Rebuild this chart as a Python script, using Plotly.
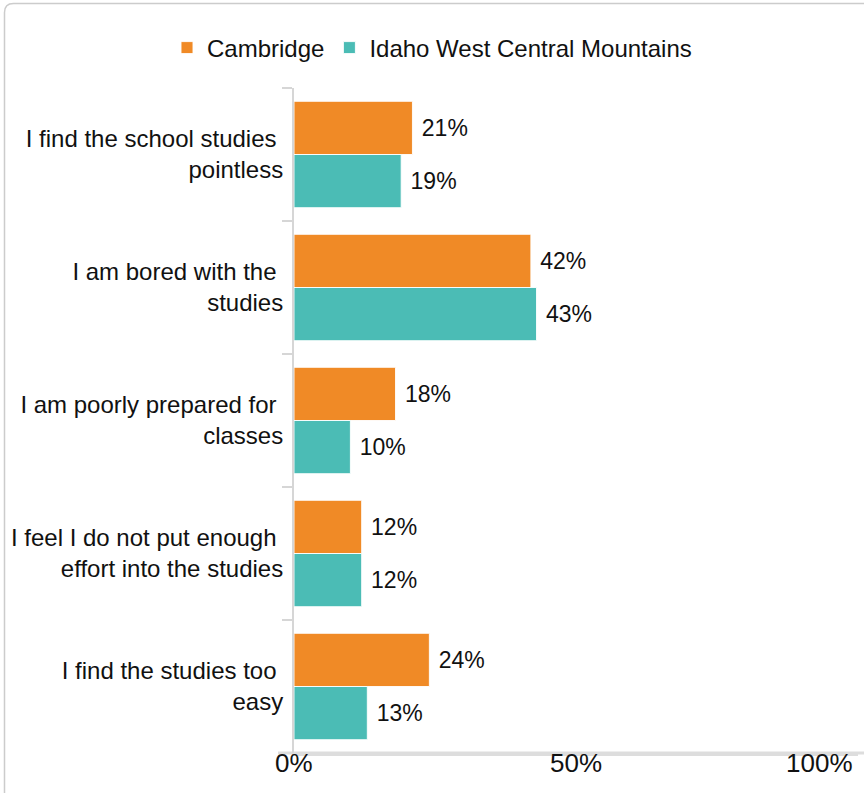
import plotly.graph_objects as go

categories = [
    "I find the school studies <br>pointless",
    "I am bored with the <br>studies",
    "I am poorly prepared for <br>classes",
    "I feel I do not put enough <br>effort into the studies",
    "I find the studies too <br>easy",
]
cambridge = [21, 42, 18, 12, 24]
idaho = [19, 43, 10, 12, 13]
series_names = ["Cambridge", "Idaho West Central Mountains"]
x_tick_vals = [0, 50, 100]
x_tick_text = ["0%", "50%", "100%"]

ORANGE = "#F08A26"
TEAL = "#4BBCB5"
FONT = "Liberation Sans, Arial, sans-serif"

W, H = 864, 793
L, R, T, B = 294, 6, 88, 40
pw = W - L - R
ph = H - T - B

fig = go.Figure()
for name, vals, col in [(series_names[0], cambridge, ORANGE), (series_names[1], idaho, TEAL)]:
    fig.add_trace(go.Bar(
        name=name, y=categories, x=vals, orientation="h",
        marker=dict(color=col, line=dict(color="rgba(255,255,255,0.9)", width=1)),
        text=[f" {v}%" for v in vals], textposition="outside",
        textfont=dict(family=FONT, size=23, color="#111111"),
        cliponaxis=False, hoverinfo="skip",
    ))

def px(x):
    return (x - L) / pw

def py(y):
    return (H - B - y) / ph

x0, y0 = px(4.5), py(3.5)
rx, ry = 9 / pw, 9 / ph
xr, yb = px(875), py(805)
path = (f"M {x0},{yb} L {x0},{y0 - ry} Q {x0},{y0} {x0 + rx},{y0} L {xr},{y0}")

# x tick labels drawn at their data positions on the x axis
tick_annotations = []
for i, (v, t) in enumerate(zip(x_tick_vals, x_tick_text)):
    last = i == len(x_tick_vals) - 1
    tick_annotations.append(dict(
        text=t, x=v, xref="x", y=0, yref="paper",
        xanchor="right" if last else "center", xshift=-3 if last else 0,
        yanchor="top", yshift=7, showarrow=False,
        font=dict(size=26, family=FONT, color="#111111")))

fig.update_layout(
    width=W, height=H,
    margin=dict(l=L, r=R, t=T, b=B, autoexpand=False),
    paper_bgcolor="white", plot_bgcolor="white",
    barmode="group", bargap=0.2, bargroupgap=0,
    font=dict(family=FONT, color="#111111"),
    showlegend=True,
    legend=dict(orientation="h", x=0.5, xref="container", xanchor="center",
                y=py(48), yanchor="middle", font=dict(size=24, family=FONT, color="#111111"),
                itemwidth=30, tracegroupgap=0, itemclick=False),
    xaxis=dict(range=[0, 100], tickvals=x_tick_vals, showticklabels=False,
               showgrid=False, zeroline=False, showline=True, linecolor="#DDDDDD", linewidth=3,
               ticks="", ticklen=0, automargin=False),
    yaxis=dict(autorange="reversed", showgrid=False, showline=True, linecolor="#D6D6D6", linewidth=2,
               ticks="outside", tickson="boundaries", ticklen=10, tickcolor="#D6D6D6", tickwidth=2,
               ticklabelstandoff=4,
               tickfont=dict(size=24, family=FONT, color="#111111"), automargin=False),
    shapes=[
        dict(type="path", path=path, xref="paper", yref="paper",
             line=dict(color="#CCCCCC", width=1.5), layer="above"),
        dict(type="line", xref="paper", yref="paper", x0=px(278), x1=px(870), y0=0, y1=0,
             line=dict(color="#DDDDDD", width=3), layer="below"),
    ],
    annotations=tick_annotations,
)

fig.write_html("out.html", config={"displayModeBar": False},
               post_script="document.body.style.margin='0';")
